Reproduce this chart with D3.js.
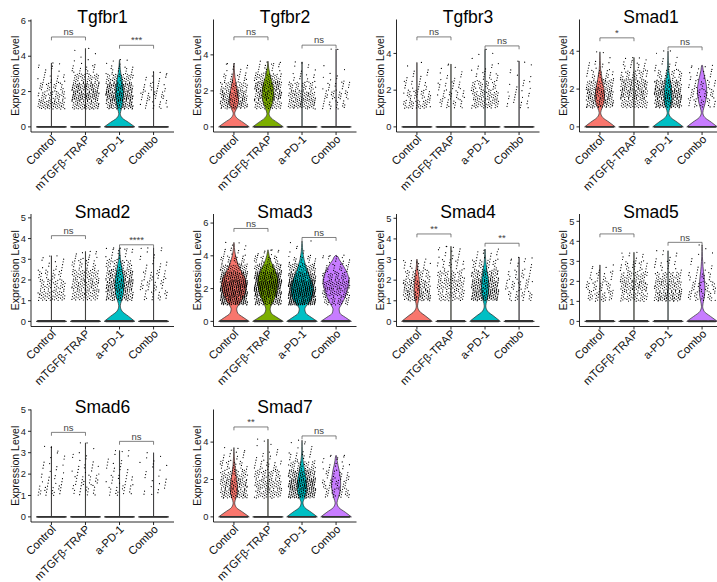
<!DOCTYPE html>
<html>
<head>
<meta charset="utf-8">
<script src="https://cdn.jsdelivr.net/npm/d3@7"></script>
<style>
  body { margin: 0; background: #fff; }
  svg { display: block; }
</style>
</head>
<body>
<svg id="chart" width="717" height="582"></svg>
<script>
// ---- data ----------------------------------------------------------------
const groups = ["Control", "mTGFβ-TRAP", "a-PD-1", "Combo"];
const groupColors = ["#F8766D", "#7CAE00", "#00BFC4", "#C77CFF"];
const genes = ["Tgfbr1", "Tgfbr2", "Tgfbr3", "Smad1", "Smad2", "Smad3", "Smad4", "Smad5", "Smad6", "Smad7"];

// upper end of the expression range shown for each gene (before ggplot-style 5% expansion)
const yLimit = [5.79, 5.68, 5.57, 5.41, 4.94, 6.24, 4.96, 5.11, 4.78, 5.47];
const yTicks = [
  [0, 2, 4, 6], [0, 2, 4], [0, 2, 4], [0, 2, 4], [0, 1, 2, 3, 4, 5],
  [0, 2, 4, 6], [0, 1, 2, 3, 4, 5], [0, 1, 2, 3, 4, 5], [0, 1, 2, 3, 4, 5], [0, 2, 4]
];

// highest expression per group (top of each violin)
const maxExpr = [
  [3.62, 4.44, 3.81, 3.11], [3.52, 3.65, 3.61, 4.32], [3.51, 3.42, 4.22, 3.58],
  [3.97, 3.67, 4.02, 3.26], [3.17, 3.38, 3.55, 3.55], [4.82, 4.37, 4.91, 4.04],
  [3.02, 3.64, 3.51, 3.10], [2.82, 3.45, 3.53, 3.82], [3.30, 3.46, 3.10, 3.00],
  [3.71, 4.16, 4.10, 3.29]
];

// expressing cells per 0.5-wide bin, starting at 1.0
const binStart = 1.0, binWidth = 0.5;
const nonzeroBins = [
  [[55, 40, 25, 15, 6, 2], [60, 90, 80, 40, 15, 5, 2], [80, 110, 90, 45, 15, 4], [15, 20, 15, 8, 2]],
  [[70, 70, 45, 20, 8, 1], [50, 80, 80, 45, 15, 3], [60, 55, 35, 12, 5, 1], [18, 25, 15, 6, 2, 0, 1]],
  [[40, 30, 15, 8, 3], [20, 20, 15, 8, 4], [45, 45, 30, 15, 8, 2, 1], [10, 10, 7, 4, 2, 1]],
  [[70, 80, 55, 25, 10, 2], [50, 75, 65, 35, 15, 4], [90, 110, 75, 30, 10, 3, 1], [25, 28, 20, 12, 5]],
  [[50, 40, 25, 10, 3], [50, 60, 50, 25, 10], [85, 105, 80, 40, 15, 3], [20, 22, 20, 10, 5, 2]],
  [[120, 140, 140, 100, 55, 25, 10, 3], [90, 130, 150, 120, 65, 25, 8], [140, 170, 150, 100, 55, 20, 5, 2], [35, 45, 50, 35, 20, 12, 2]],
  [[75, 65, 35, 17], [45, 50, 40, 20, 10, 4], [110, 100, 70, 30, 12], [25, 25, 18, 8, 3]],
  [[35, 30, 18, 5], [45, 60, 45, 25, 10], [75, 60, 40, 15, 6, 1], [30, 28, 18, 8, 3, 1]],
  [[22, 12, 8, 5, 2], [18, 20, 12, 7, 2], [18, 15, 10, 5, 2], [8, 7, 5, 4]],
  [[65, 65, 45, 25, 12, 3], [45, 50, 40, 20, 10, 3, 1], [100, 120, 85, 40, 15, 5, 1], [30, 28, 20, 12, 6]]
];

// cells with zero expression per group
const zeroCells = [
  [420, 700, 380, 200], [260, 300, 520, 230], [380, 260, 520, 160],
  [300, 780, 380, 110], [400, 640, 330, 280], [520, 520, 560, 180],
  [200, 540, 320, 260], [360, 600, 640, 100], [320, 380, 300, 160],
  [260, 560, 420, 120]
];

// violin half-widths (fraction of the maximum) every 0.25 expression units from 0;
// null: the group is dominated by zeros and the violin collapses to a spike plus a hairline
const profileStep = 0.25;
const violinProfiles = [
  [null, null, [1.0, 0.6, 0.18, 0.05, 0.12, 0.19, 0.23, 0.25, 0.25, 0.23, 0.19, 0.14, 0.09, 0.05, 0.03, 0.01], null],
  [[1.0, 0.6, 0.18, 0.05, 0.16, 0.27, 0.3, 0.28, 0.23, 0.18, 0.12, 0.07, 0.04, 0.02, 0.01],
   [1.0, 0.6, 0.2, 0.07, 0.16, 0.27, 0.34, 0.38, 0.38, 0.34, 0.27, 0.18, 0.11, 0.05, 0.02], null, null],
  [null, null, null, null],
  [[1.0, 0.6, 0.18, 0.05, 0.14, 0.25, 0.3, 0.3, 0.27, 0.21, 0.15, 0.1, 0.05, 0.03, 0.02, 0.01], null,
   [1.0, 0.6, 0.18, 0.05, 0.13, 0.22, 0.25, 0.25, 0.23, 0.19, 0.14, 0.09, 0.05, 0.03, 0.02, 0.01, 0.005],
   [1.0, 0.6, 0.18, 0.05, 0.11, 0.2, 0.26, 0.3, 0.3, 0.27, 0.21, 0.14, 0.07, 0.03]],
  [null, null, [1.0, 0.58, 0.16, 0.05, 0.13, 0.23, 0.28, 0.3, 0.29, 0.24, 0.18, 0.12, 0.06, 0.03, 0.01], null],
  [[1.0, 0.6, 0.25, 0.18, 0.3, 0.48, 0.63, 0.73, 0.78, 0.8, 0.77, 0.66, 0.52, 0.38, 0.27, 0.18, 0.11, 0.06, 0.03, 0.02],
   [1.0, 0.58, 0.22, 0.14, 0.22, 0.36, 0.48, 0.56, 0.62, 0.65, 0.66, 0.62, 0.52, 0.4, 0.27, 0.16, 0.08, 0.03],
   [1.0, 0.6, 0.25, 0.18, 0.32, 0.53, 0.66, 0.72, 0.72, 0.68, 0.6, 0.5, 0.39, 0.29, 0.21, 0.14, 0.09, 0.05, 0.03, 0.015],
   [1.0, 0.6, 0.25, 0.2, 0.33, 0.48, 0.6, 0.7, 0.78, 0.84, 0.85, 0.8, 0.7, 0.56, 0.4, 0.22, 0.06]],
  [[1.0, 0.58, 0.16, 0.04, 0.1, 0.16, 0.18, 0.18, 0.15, 0.11, 0.06, 0.03, 0.01], null,
   [1.0, 0.58, 0.16, 0.05, 0.12, 0.2, 0.24, 0.24, 0.22, 0.18, 0.12, 0.07, 0.04, 0.02, 0.01], null],
  [null, null, null, [1.0, 0.55, 0.14, 0.04, 0.09, 0.15, 0.18, 0.18, 0.16, 0.13, 0.09, 0.06, 0.04, 0.02, 0.01, 0.005]],
  [null, null, null, null],
  [[1.0, 0.58, 0.16, 0.05, 0.13, 0.22, 0.24, 0.22, 0.19, 0.14, 0.1, 0.06, 0.04, 0.02, 0.01], null,
   [1.0, 0.6, 0.18, 0.06, 0.16, 0.27, 0.31, 0.31, 0.28, 0.23, 0.17, 0.12, 0.07, 0.04, 0.02, 0.01, 0.005],
   [1.0, 0.6, 0.18, 0.06, 0.14, 0.23, 0.28, 0.3, 0.29, 0.25, 0.2, 0.13, 0.07, 0.03]]
];

// pairwise tests: Control vs mTGFβ-TRAP, a-PD-1 vs Combo
const comparisons = [[0, 1], [2, 3]];
const sigLabels = [
  ["ns", "***"], ["ns", "ns"], ["ns", "ns"], ["*", "ns"], ["ns", "****"],
  ["ns", "ns"], ["**", "**"], ["ns", "ns"], ["ns", "ns"], ["**", "ns"]
];
const sigHeights = [
  [5.09, 4.62], [5.0, 4.54], [4.9, 4.41], [4.71, 4.23], [4.14, 3.70],
  [5.67, 5.12], [4.24, 3.79], [4.37, 3.95], [3.95, 3.53], [4.81, 4.33]
];

// ---- layout --------------------------------------------------------------
const FONT = "'Liberation Sans', Arial, Helvetica, sans-serif";
const colLeft = [31, 213.5, 396.5, 579.5];
const rowTop = [19.5, 214, 409.5];
const plotW = 143, plotH = 112.5;

const svg = d3.select("#chart");
svg.append("rect").attr("width", 717).attr("height", 582).attr("fill", "#fff");

// quasi-random (R2 sequence) offsets used to spread the dots in each group
const A1 = 0.7548776662466927, A2 = 0.5698402909980532;
const frac = v => v - Math.floor(v);

function dotPath(pts, r) {
  let s = "";
  for (const [x, y] of pts) {
    s += `M${(x - r).toFixed(2)},${y.toFixed(2)}a${r},${r} 0 1,0 ${2 * r},0a${r},${r} 0 1,0 ${-2 * r},0`;
  }
  return s;
}

genes.forEach((gene, gi) => {
  const left = colLeft[gi % 4];
  const top = rowTop[Math.floor(gi / 4)];
  const bottom = top + plotH;
  const M = yLimit[gi];

  const x = d3.scalePoint().domain(groups).range([left, left + plotW]).padding(0.6);
  const y = d3.scaleLinear().domain([-0.05 * M, 1.05 * M]).range([bottom, top]);
  const step = x.step();
  const halfViolin = 0.45 * step;   // violin width 0.9
  const jitter = 0.4 * step;        // jitter width 0.4

  const g = svg.append("g");

  // violins
  const area = d3.area()
    .curve(d3.curveMonotoneY)
    .y(d => y(d.v))
    .x0(d => d.cx - d.w * halfViolin)
    .x1(d => d.cx + d.w * halfViolin);

  groups.forEach((grp, k) => {
    const cx = x(grp);
    const mx = maxExpr[gi][k];
    const prof = violinProfiles[gi][k];
    let pts;
    if (prof) {
      pts = prof.map((w, i) => ({ v: i * profileStep, w, cx })).filter(d => d.v < mx);
      pts.push({ v: mx, w: 0, cx });
    } else {
      pts = [{ v: 0, w: 1, cx }, { v: 0.015, w: 0.004, cx }, { v: mx, w: 0.004, cx }, { v: mx + 0.001, w: 0, cx }];
    }
    pts.sort((a, b) => b.v - a.v);
    g.append("path")
      .attr("d", area(pts))
      .attr("fill", groupColors[k])
      .attr("stroke", "#2b2b2b")
      .attr("stroke-width", 0.7)
      .attr("stroke-linejoin", "round");
  });

  // jittered cells
  groups.forEach((grp, k) => {
    const cx = x(grp);
    const mx = maxExpr[gi][k];
    let n = 97 * (gi * 4 + k) + 11;
    const zeroPts = [];
    for (let j = 0; j < zeroCells[gi][k]; j++) {
      n++;
      zeroPts.push([cx + (2 * frac(0.5 + n * A1) - 1) * jitter, y(0)]);
    }
    const exprPts = [];
    nonzeroBins[gi][k].forEach((cnt, b) => {
      const lo = binStart + b * binWidth;
      const hi = Math.min(lo + binWidth, mx);
      for (let j = 0; j < cnt; j++) {
        n++;
        const v = lo + frac(0.5 + n * A2) * (hi - lo);
        exprPts.push([cx + (2 * frac(0.5 + n * A1) - 1) * jitter, y(v)]);
      }
    });
    n++;
    exprPts.push([cx + (2 * frac(0.5 + n * A1) - 1) * jitter, y(mx)]);
    g.append("path").attr("d", dotPath(zeroPts, 0.8)).attr("fill", "#333");
    g.append("path").attr("d", dotPath(exprPts, 0.62)).attr("fill", "#000");
  });

  // significance brackets
  const tip = 0.03 * (1.1 * M);
  comparisons.forEach(([a, b], ci) => {
    const h = sigHeights[gi][ci];
    const xa = x(groups[a]), xb = x(groups[b]);
    g.append("path")
      .attr("d", `M${xa},${y(h - tip)}V${y(h)}H${xb}V${y(h - tip)}`)
      .attr("fill", "none").attr("stroke", "#555").attr("stroke-width", 0.75);
    g.append("text")
      .attr("x", (xa + xb) / 2).attr("y", y(h) - 1.8)
      .attr("text-anchor", "middle")
      .attr("font-family", FONT).attr("font-size", 9.5).attr("fill", "#444")
      .text(sigLabels[gi][ci]);
  });

  // y axis
  const yAxis = g.append("g");
  yAxis.append("line").attr("x1", left).attr("x2", left).attr("y1", top).attr("y2", bottom)
    .attr("stroke", "#111").attr("stroke-width", 0.9);
  yTicks[gi].forEach(t => {
    yAxis.append("line").attr("x1", left - 3).attr("x2", left).attr("y1", y(t)).attr("y2", y(t))
      .attr("stroke", "#111").attr("stroke-width", 0.9);
    yAxis.append("text").attr("x", left - 5).attr("y", y(t)).attr("dy", "0.35em")
      .attr("text-anchor", "end").attr("font-family", FONT).attr("font-size", 9.3).attr("fill", "#222")
      .text(t);
  });

  // x axis
  const xAxis = g.append("g");
  xAxis.append("line").attr("x1", left).attr("x2", left + plotW).attr("y1", bottom).attr("y2", bottom)
    .attr("stroke", "#111").attr("stroke-width", 0.9);
  groups.forEach(grp => {
    const cx = x(grp);
    xAxis.append("line").attr("x1", cx).attr("x2", cx).attr("y1", bottom).attr("y2", bottom + 3)
      .attr("stroke", "#111").attr("stroke-width", 0.9);
    xAxis.append("text")
      .attr("transform", `translate(${cx + 5},${bottom + 8}) rotate(-45)`)
      .attr("text-anchor", "end").attr("font-family", FONT).attr("font-size", 11.3).attr("fill", "#111")
      .text(grp);
  });

  // axis title and gene title
  g.append("text")
    .attr("transform", `translate(${left - 16},${(top + bottom) / 2}) rotate(-90)`)
    .attr("text-anchor", "middle").attr("dy", "0.35em")
    .attr("font-family", FONT).attr("font-size", 10.5).attr("fill", "#111")
    .text("Expression Level");
  g.append("text")
    .attr("x", left + plotW / 2).attr("y", top + 3.5)
    .attr("text-anchor", "middle")
    .attr("font-family", FONT).attr("font-size", 17.5).attr("fill", "#000")
    .text(gene);
});
</script>
</body>
</html>
